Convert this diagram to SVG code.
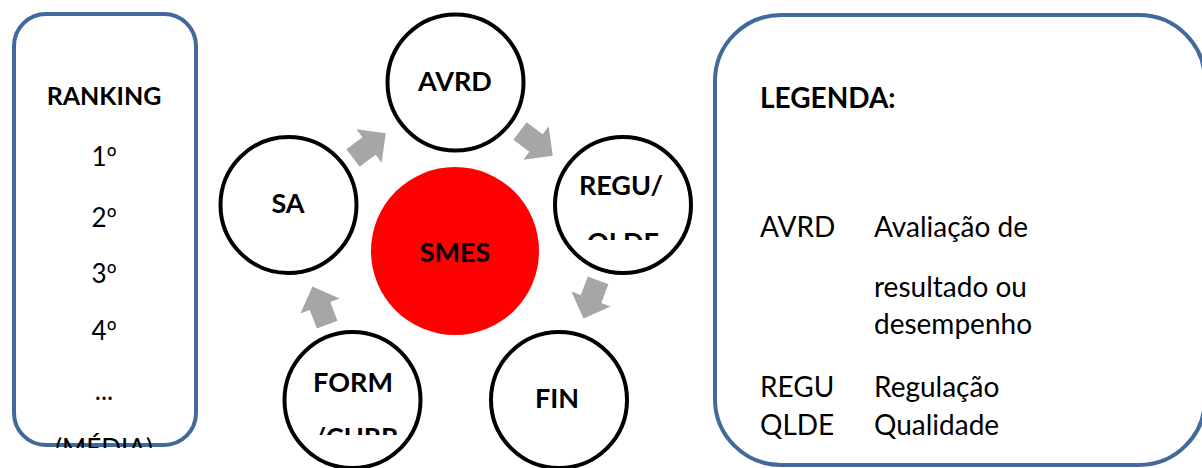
<svg xmlns="http://www.w3.org/2000/svg" width="1202" height="468" viewBox="0 0 1202 468">
<style>
.box{fill:#fff;stroke:#41699B;stroke-width:4}
.node{fill:#fff;stroke:#000;stroke-width:4}
.t{font-family:Lato,"Liberation Sans",sans-serif;fill:#000}
.b{font-weight:bold}
.o{font-family:"Noto Sans","DejaVu Sans",sans-serif}
.arr{fill:#A6A6A6}
</style>
<defs>
<path id="blk" d="M21,0 L0,-21 L0,-11 L-20,-11 L-20,11 L0,11 L0,21 Z"/>
<clipPath id="cRank"><rect x="0" y="0" width="210" height="448"/></clipPath>
<clipPath id="cRegu"><rect x="550" y="140" width="150" height="100"/></clipPath>
<clipPath id="cForm"><rect x="280" y="340" width="150" height="95"/></clipPath>
</defs>
<rect width="1202" height="468" fill="#fff"/>
<g id="ranking">
<rect class="box" x="14" y="14" width="182" height="431" rx="32"/>
<g clip-path="url(#cRank)" class="t" font-size="26" text-anchor="middle">
<text x="104" y="105" class="b" font-size="25">RANKING</text>
<text x="104" y="166">1<tspan class="o">º</tspan></text>
<text x="104" y="227">2<tspan class="o">º</tspan></text>
<text x="104" y="283">3<tspan class="o">º</tspan></text>
<text x="104" y="340">4<tspan class="o">º</tspan></text>
<text x="104" y="400">...</text>
<text x="104" y="458">(MÉDIA)</text>
</g>
</g>
<g id="connectors">
<use href="#blk" class="arr" transform="translate(369,146) rotate(-37)"/>
<use href="#blk" class="arr" transform="translate(536,143) rotate(37)"/>
<use href="#blk" class="arr" transform="translate(591,299) rotate(111)"/>
<use href="#blk" class="arr" transform="translate(320,306) rotate(-111)"/>
</g>
<g id="smes">
<circle cx="455" cy="251" r="84" fill="#FF0000"/>
<text class="t b" x="455" y="262" font-size="27" text-anchor="middle">SMES</text>
</g>
<g id="avrd">
<circle class="node" cx="455.5" cy="82.5" r="68"/>
<text class="t b" x="455" y="91" font-size="27" text-anchor="middle">AVRD</text>
</g>
<g id="sa">
<circle class="node" cx="288.5" cy="205" r="68"/>
<text class="t b" x="288" y="213" font-size="27" text-anchor="middle">SA</text>
</g>
<g id="regu">
<circle class="node" cx="623" cy="205" r="68"/>
<g clip-path="url(#cRegu)" class="t b" font-size="27" text-anchor="middle">
<text x="621" y="195">REGU/</text>
<text x="623" y="252">QLDE</text>
</g>
</g>
<g id="form">
<circle class="node" cx="352.5" cy="400" r="68"/>
<g clip-path="url(#cForm)" class="t b" font-size="27" text-anchor="middle">
<text x="353" y="392">FORM</text>
<text x="356" y="447">/CURR</text>
</g>
</g>
<g id="fin">
<circle class="node" cx="559" cy="400" r="68"/>
<text class="t b" x="557" y="408" font-size="27" text-anchor="middle">FIN</text>
</g>
<g id="legenda">
<rect class="box" x="715" y="15" width="490" height="450" rx="66"/>
<g class="t" font-size="28">
<text x="760" y="108" class="b">LEGENDA:</text>
<text x="760" y="237">AVRD</text>
<text x="874" y="237">Avaliação de</text>
<text x="874" y="297">resultado ou</text>
<text x="874" y="334">desempenho</text>
<text x="760" y="397">REGU</text>
<text x="874" y="397">Regulação</text>
<text x="760" y="435">QLDE</text>
<text x="874" y="435">Qualidade</text>
</g>
</g>
</svg>
